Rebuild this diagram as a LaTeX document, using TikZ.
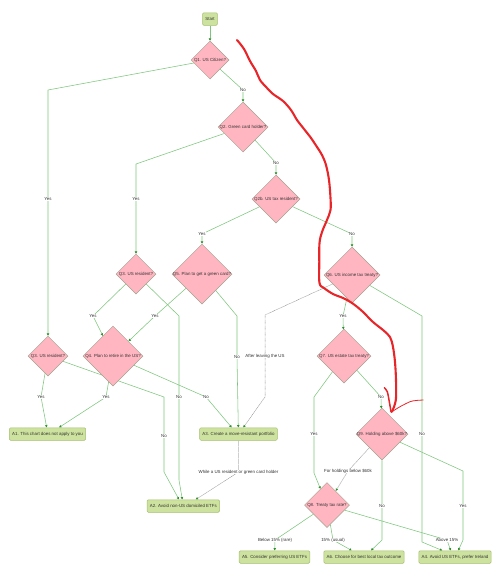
\documentclass[tikz,border=0pt]{standalone}
\usepackage{fontspec}
\setmainfont{Liberation Sans}
\usetikzlibrary{arrows.meta,shapes.geometric}
\definecolor{dfill}{HTML}{FFB6C1}
\definecolor{ddraw}{HTML}{A39E8E}
\definecolor{bfill}{HTML}{CDE29E}
\definecolor{bdraw}{HTML}{A3BE6F}
\definecolor{eline}{HTML}{7CC67C}
\definecolor{ehead}{HTML}{2F8F2F}
\definecolor{dline}{HTML}{8C8C8C}
\definecolor{txt}{HTML}{333333}
\definecolor{annot}{HTML}{E8262A}
\pgfdeclarelayer{bg}\pgfsetlayers{bg,main}
\begin{document}
\begin{tikzpicture}[x=1pt,y=-1pt,
  font=\fontsize{4.4}{5}\selectfont, text=txt,
  dec/.style={diamond, draw=ddraw, fill=dfill, line width=0.5pt, inner sep=0pt, aspect=1, minimum size=#1},
  dtext/.style={inner sep=0pt, text=txt},
  box/.style={rectangle, rounded corners=1.2pt, draw=bdraw, fill=bfill, line width=0.5pt, minimum height=12.5pt, inner xsep=2.8pt, inner ysep=0pt},
  lbl/.style={fill=white, inner sep=0.4pt, text=txt},
  tip/.style={-{Triangle[length=2.4pt,width=2.4pt,color=ehead]}},
  edge/.style={draw=eline, line width=0.55pt, line join=round, tip},
  dedge/.style={draw=dline, line width=0.5pt, dash pattern=on 0.6pt off 0.6pt, line join=round, tip},
  scribble/.style={draw=annot, line cap=round, line join=round}]
\useasboundingbox (0,0) rectangle (500,581);

% decision and answer nodes
\node[box] (start) at (210,19) {Start};
\node[dec=38] (q1) at (210,60) {};
\node[dtext] (q1t) at (q1) {Q1. US Citizen?};
\node[dec=50] (q2) at (243,127) {};
\node[dtext] (q2t) at (q2) {Q2. Green card holder?};
\node[dec=48] (q2b) at (276,199) {};
\node[dtext] (q2bt) at (q2b) {Q2b. US tax resident?};
\node[dec=40] (q3) at (136,274) {};
\node[dtext] (q3t) at (q3) {Q3. US resident?};
\node[dec=60] (q5) at (202,274) {};
\node[dtext] (q5t) at (q5) {Q5. Plan to get a green card?};
\node[dec=56] (q6) at (352,275) {};
\node[dtext] (q6t) at (q6) {Q6. US income tax treaty?};
\node[dec=40] (q3l) at (48,356) {};
\node[dtext] (q3lt) at (q3l) {Q3. US resident?};
\node[dec=60] (q4) at (113,356) {};
\node[dtext] (q4t) at (q4) {Q4. Plan to retire in the US?};
\node[dec=54] (q7) at (344,356) {};
\node[dtext] (q7t) at (q7) {Q7. US estate tax treaty?};
\node[dec=52] (q9) at (382,434) {};
\node[dtext] (q9t) at (q9) {Q9. Holding above \$60k?};
\node[dec=45] (q8) at (327,505) {};
\node[dtext] (q8t) at (q8) {Q8. Treaty tax rate?};
\node[box] (a1) at (47.5,434) {A1. This chart does not apply to you};
\node[box] (a3) at (238.5,434) {A3. Create a move-resistant portfolio};
\node[box] (a2) at (183.3,506) {A2. Avoid non-US domiciled ETFs};
\node[box] (a5) at (274.5,557) {A5. Consider preferring US ETFs};
\node[box] (a6) at (364,557) {A6. Choose for best local tax outcome};
\node[box] (a4) at (455,557) {A4. Avoid US ETFs, prefer Ireland};

% edge labels
\node[lbl] (l1) at (48,199) {Yes};
\node[lbl] (l2) at (243,90) {No};
\node[lbl] (l3) at (136,199) {Yes};
\node[lbl] (l4) at (276,163) {No};
\node[lbl] (l5) at (202,234) {Yes};
\node[lbl] (l6) at (352,234) {No};
\node[lbl] (l7) at (93,316) {Yes};
\node[lbl] (l8) at (155,316) {Yes};
\node[lbl] (l9) at (179,397) {No};
\node[lbl] (l10) at (164,436) {No};
\node[lbl] (l11) at (41,397) {Yes};
\node[lbl] (l12) at (106,397) {Yes};
\node[lbl] (l13) at (206,397) {No};
\node[lbl] (l14) at (237,357) {No};
\node[lbl] (l15) at (265,356) {After leaving the US};
\node[lbl] (l16) at (238.5,472) {While a US resident or green card holder};
\node[lbl] (l17) at (343,316) {Yes};
\node[lbl] (l18) at (422,434) {No};
\node[lbl] (l19) at (314,434) {Yes};
\node[lbl] (l20) at (381,397) {No};
\node[lbl] (l21) at (348,471) {For holdings below \$60k};
\node[lbl] (l22) at (382,506) {No};
\node[lbl] (l23) at (463,506) {Yes};
\node[lbl] (l24) at (275,540) {Below 15\% (rare)};
\node[lbl] (l25) at (333,540) {15\% (usual)};
\node[lbl] (l26) at (447,540) {Above 15\%};

\begin{pgfonlayer}{bg}
\draw[edge] (start) -- (q1);
\draw[edge] (q1) -- (48,90) -- (l1.center) -- (q3l);
\draw[edge] (q1) -- (l2.center) -- (q2);
\draw[edge] (q2) -- (136,164) -- (l3.center) -- (q3);
\draw[edge] (q2) -- (l4.center) -- (q2b);
\draw[edge] (q2b) -- (l5.center) -- (q5);
\draw[edge] (q2b) -- (l6.center) -- (q6);
\draw[edge] (q3) -- (l7.center) -- (q4);
\draw[edge] (q5) -- (l8.center) -- (q4);
\draw[edge] (q3) -- (179,316) -- (l9.center) -- (179,480) -- ([xshift=-1pt]a2.north);
\draw[edge] (q3l) -- (164,397) -- (l10.center) -- (164,472) -- ([xshift=-4.3pt]a2.north);
\draw[edge] (q3l) -- (l11.center) -- ([xshift=-0.8pt]a1.north);
\draw[edge] (q4) -- (l12.center) -- ([xshift=11.5pt]a1.north);
\draw[edge] (q4) -- (l13.center) -- ([xshift=-6.8pt]a3.north);
\draw[edge] (q5) -- (237,316) -- (l14.center) -- ([xshift=-0.2pt]a3.north);
\draw[dedge] (q6) -- (265,315) -- (l15.center) -- (265,397) -- ([xshift=4.8pt]a3.north);
\draw[dedge] (a3) -- (l16.center) -- ([xshift=12.4pt]a2.north);
\draw[edge] (q6) -- (l17.center) -- (q7);
\draw[edge] (q6) -- (422,316) -- (l18.center) -- (422,542) -- ([xshift=-12.7pt]a4.north);
\draw[edge] (q7) -- (314,397) -- (l19.center) -- (314,473) -- (q8);
\draw[edge] (q7) -- (l20.center) -- (q9);
\draw[dedge] (q9) -- (l21.center) -- (q8);
\draw[edge] (q9) -- (l22.center) -- (382,540) -- ([xshift=7pt]a6.north);
\draw[edge] (q9) -- (463,471) -- (l23.center) -- (463,540) -- ([xshift=3.3pt]a4.north);
\draw[edge] (q8) -- (l24.center) -- (a5);
\draw[edge] (q8) -- (l25.center) -- ([xshift=-12.3pt]a6.north);
\draw[edge] (q8) -- (l26.center) -- ([xshift=-4.3pt]a4.north);
\end{pgfonlayer}

% red hand-drawn annotation
\draw[scribble, line width=2.1pt] plot[smooth, tension=0.55] coordinates {
 (237,40) (244,49) (250,61) (256,71) (260,80) (267,88) (273,94) (283,101)
 (291,110) (297,120) (304,129) (311,138) (317,147) (322,155) (326,165)
 (329,180) (330.5,198) (330.5,210) (327,220) (322,232) (319.5,243)
 (319.3,262) (319.5,283) (324,288) (333,294) (343,298) (352,303)
 (362,311) (373,322) (383,330) (390,337) (393,347) (395,362)
 (396,380) (396,398) (394,407) (391.5,412)};
\draw[scribble, line width=1.5pt] plot[smooth, tension=0.5] coordinates {
 (384.3,387.7) (387.3,391.7) (389.3,401.7) (391,411.7)};
\draw[scribble, line width=0.8pt] plot[smooth, tension=0.5] coordinates {
 (391.5,412) (400,406.7) (410,401.7) (416,400.5) (423.3,400)};
\end{tikzpicture}
\end{document}
